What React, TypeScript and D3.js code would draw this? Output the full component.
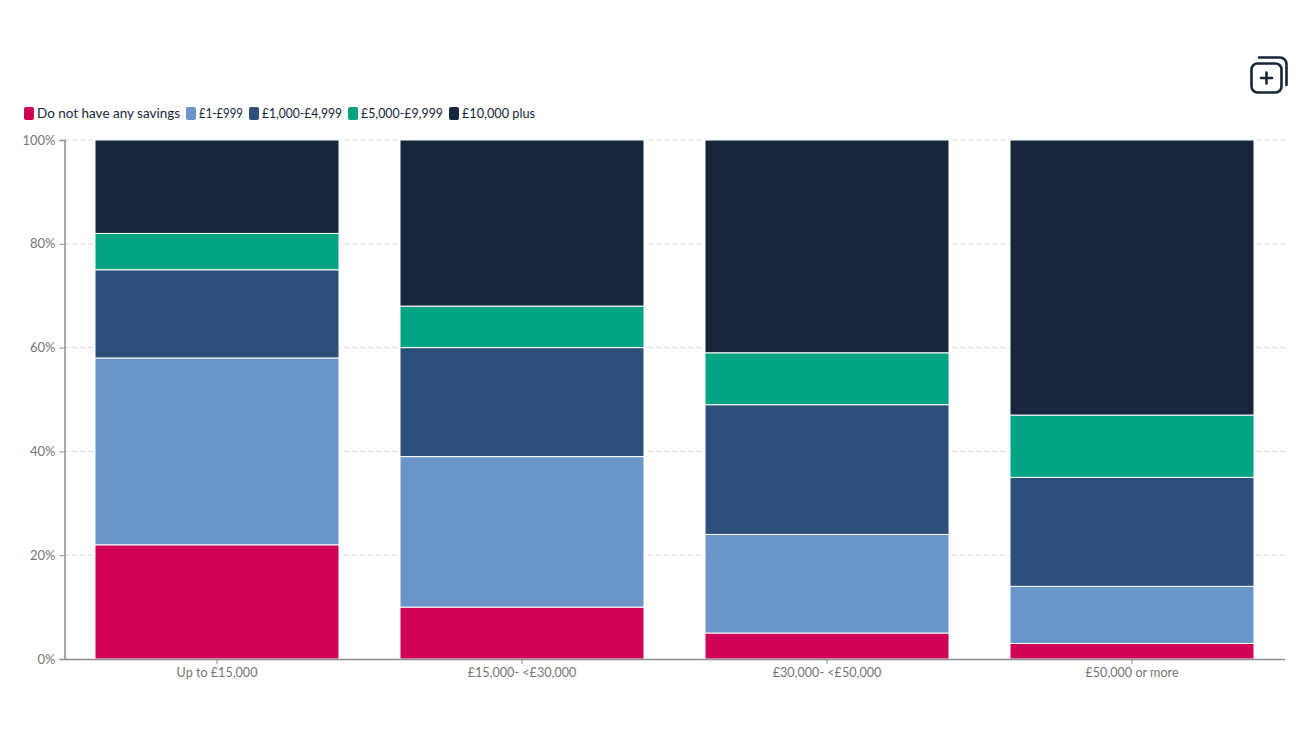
import * as d3 from "d3";
import { useEffect, useRef } from "react";

const categories = ["Up to £15,000", "£15,000- <£30,000", "£30,000- <£50,000", "£50,000 or more"];
const seriesNames = ["Do not have any savings", "£1-£999", "£1,000-£4,999", "£5,000-£9,999", "£10,000 plus"];
const seriesColors = ["#cf0055", "#6a95cb", "#2c4f7c", "#00a482", "#15263d"];

const noSavings = [22, 10, 5, 3];
const upTo999 = [36, 29, 19, 11];
const upTo4999 = [17, 21, 25, 21];
const upTo9999 = [7, 8, 10, 12];
const tenKPlus = [18, 32, 41, 53];

const yTicks = [0, 20, 40, 60, 80, 100];

const FONT = "Lato, sans-serif";
// the original webfont is narrower on digits, so legend labels are fitted to these widths
const legendLabelWidths = [143, 44, 80, 82, 73];

export default function App() {
  const ref = useRef<SVGSVGElement>(null);

  useEffect(() => {
    if (!ref.current) return;
    const svg = d3.select(ref.current);
    svg.selectAll("*").remove();

    const left = 64.5;
    const right = 1284.5;
    const top = 140;
    const bottom = 659;

    const x = d3.scaleBand<string>().domain(categories).range([left, right]).paddingInner(0.2).paddingOuter(0.1);
    const y = d3.scaleLinear().domain([0, 100]).range([bottom, top]);

    const rows = categories.map((c, i) => ({
      category: c,
      [seriesNames[0]]: noSavings[i],
      [seriesNames[1]]: upTo999[i],
      [seriesNames[2]]: upTo4999[i],
      [seriesNames[3]]: upTo9999[i],
      [seriesNames[4]]: tenKPlus[i],
    }));
    const stacked = d3.stack<any>().keys(seriesNames)(rows);
    const color = d3.scaleOrdinal<string, string>().domain(seriesNames).range(seriesColors);

    // Gridlines
    svg.append("g")
      .selectAll("line")
      .data(yTicks.filter((t) => t > 0))
      .join("line")
      .attr("x1", left)
      .attr("x2", right)
      .attr("y1", (d) => y(d))
      .attr("y2", (d) => y(d))
      .attr("stroke", "#cfcfcf")
      .attr("stroke-width", 1)
      .attr("stroke-dasharray", "4 4");

    // Bars
    svg.append("g")
      .selectAll("g")
      .data(stacked)
      .join("g")
      .attr("fill", (s) => color(s.key))
      .selectAll("rect")
      .data((s) => s)
      .join("rect")
      .attr("x", (d) => x(d.data.category)!)
      .attr("width", x.bandwidth())
      .attr("y", (d) => y(d[1]))
      .attr("height", (d) => y(d[0]) - y(d[1]))
      .attr("stroke", "#ffffff")
      .attr("stroke-width", 1);

    // Y axis
    const yAxis = svg.append("g")
      .attr("transform", `translate(${left},0)`)
      .call(d3.axisLeft(y).tickValues(yTicks).tickSize(5).tickPadding(4).tickFormat((d) => `${d}%`));
    yAxis.select(".domain").attr("stroke", "#8c8c8c").attr("stroke-width", 1.5);
    yAxis.selectAll(".tick line").attr("stroke", "#8c8c8c");
    yAxis.selectAll("text").attr("fill", "#757575").style("font-family", FONT).style("font-size", "13px");

    // X axis
    const xAxis = svg.append("g")
      .attr("transform", `translate(0,${bottom})`)
      .call(d3.axisBottom(x).tickSize(5).tickPadding(4).tickSizeOuter(0));
    xAxis.select(".domain").attr("stroke", "#8c8c8c").attr("stroke-width", 1.5);
    xAxis.selectAll(".tick line").attr("stroke", "#8c8c8c");
    xAxis.selectAll("text").attr("fill", "#757575").style("font-family", FONT).style("font-size", "12.6px");

    // Legend
    const legend = svg.append("g").attr("transform", "translate(24,107)");
    let lx = 0;
    seriesNames.forEach((name, i) => {
      const item = legend.append("g").attr("transform", `translate(${lx},0)`);
      item.append("rect")
        .attr("width", 10)
        .attr("height", 13)
        .attr("rx", 2)
        .attr("fill", color(name));
      item.append("text")
        .attr("x", 13)
        .attr("y", 11)
        .attr("fill", "#15263d")
        .attr("textLength", legendLabelWidths[i])
        .attr("lengthAdjust", "spacingAndGlyphs")
        .style("font-family", FONT)
        .style("font-size", "13.5px")
        .text(name);
      lx += 13 + legendLabelWidths[i] + 6;
    });

    // Add-to-collection icon
    const icon = svg.append("g")
      .attr("fill", "none")
      .attr("stroke", "#15263d")
      .attr("stroke-width", 2.6)
      .attr("stroke-linecap", "round");
    icon.append("rect").attr("x", 1251.5).attr("y", 63.5).attr("width", 30).attr("height", 29).attr("rx", 6);
    icon.append("path").attr("d", "M1259 57.5h21a6.5 6.5 0 0 1 6.5 6.5v21");
    icon.append("path").attr("d", "M1266.5 72.5v11M1261 78h11");
  }, []);

  return (
    <svg
      ref={ref}
      width={1312}
      height={738}
      style={{ position: "absolute", left: 0, top: 0, background: "#ffffff" }}
    />
  );
}
